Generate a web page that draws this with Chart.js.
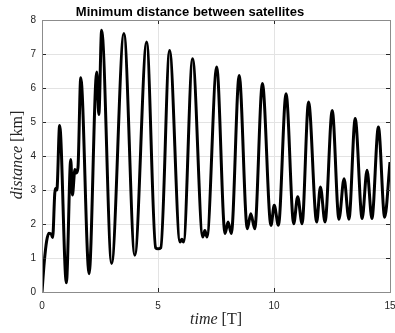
<!DOCTYPE html>
<html>
<head>
<meta charset="utf-8">
<script src="https://cdn.jsdelivr.net/npm/chart.js@4.4.0/dist/chart.umd.min.js"></script>
<style>
  html, body { margin: 0; padding: 0; background: #fff; }
  canvas { display: block; }
</style>
</head>
<body>
<canvas id="myChart" width="395" height="333"></canvas>
<script>
"use strict";

/* Data (time in orbital periods T, distance in km) */
const times = [
    0, 0.1, 0.2, 0.3, 0.4, 0.46, 0.55, 0.6, 0.64, 0.76,
    1.05, 1.24, 1.31, 1.42, 1.48, 1.55, 1.67,
    2.03, 2.36, 2.45, 2.57,
    3.0, 3.53, 4.0, 4.51,
    4.9, 5.0, 5.12, 5.5,
    5.95, 6.03, 6.1, 6.49,
    6.93, 7.02, 7.11, 7.53,
    7.89, 8.02, 8.16, 8.5,
    8.85, 9.0, 9.17, 9.5,
    9.87, 10.01, 10.19, 10.52,
    10.85, 11.02, 11.21, 11.49,
    11.84, 12.0, 12.2, 12.51,
    12.8, 13.02, 13.23, 13.5,
    13.8, 14.01, 14.22, 14.5,
    14.77, 15
];
const distances = [
    0, 0.9, 1.5, 1.73, 1.7, 1.6, 2.9, 3.05, 3.0, 4.9,
    0.27, 3.9, 2.85, 3.6, 3.5, 3.65, 6.3,
    0.54, 6.47, 5.22, 7.7,
    0.84, 7.6, 1.08, 7.35,
    1.3, 1.27, 1.3, 7.1,
    1.47, 1.55, 1.47, 6.86,
    1.62, 1.81, 1.62, 6.62,
    1.72, 2.06, 1.72, 6.37,
    1.86, 2.3, 1.86, 6.13,
    1.96, 2.55, 1.96, 5.83,
    2.01, 2.8, 2.01, 5.59,
    2.06, 3.09, 2.06, 5.34,
    2.14, 3.33, 2.14, 5.1,
    2.16, 3.58, 2.16, 4.85,
    2.2, 3.82
];
const xTicks = [0, 5, 10, 15];
const yTicks = [0, 1, 2, 3, 4, 5, 6, 7, 8];

const points = times.map(function (t, i) {
    return { x: t, y: distances[i] };
});

// Box, inward ticks, title and axis labels (MATLAB style)
const matlabFrame = {
    id: 'matlabFrame',
    afterDraw: function (chart) {
        const ctx = chart.ctx;
        const a = chart.chartArea;
        const xs = chart.scales.x;
        const ys = chart.scales.y;
        ctx.save();
        ctx.strokeStyle = '#262626';
        ctx.lineWidth = 1;
        ctx.beginPath();
        xTicks.forEach(function (v) {
            const px = Math.round(xs.getPixelForValue(v)) + 0.5;
            ctx.moveTo(px, a.bottom); ctx.lineTo(px, a.bottom - 4);
            ctx.moveTo(px, a.top); ctx.lineTo(px, a.top + 4);
        });
        yTicks.forEach(function (v) {
            const py = Math.round(ys.getPixelForValue(v)) + 0.5;
            ctx.moveTo(a.left, py); ctx.lineTo(a.left + 4, py);
            ctx.moveTo(a.right, py); ctx.lineTo(a.right - 4, py);
        });
        ctx.stroke();
        ctx.strokeStyle = '#8c8c8c';
        ctx.strokeRect(Math.round(a.left) + 0.5, Math.round(a.top) + 0.5,
            Math.round(a.right - a.left), Math.round(a.bottom - a.top));

        // title
        ctx.fillStyle = '#000';
        ctx.font = 'bold 13px "Liberation Sans", Arial, sans-serif';
        ctx.textAlign = 'center';
        ctx.textBaseline = 'alphabetic';
        ctx.fillText('Minimum distance between satellites', 190, 16);

        // x label
        const it = 'italic 16px "Liberation Serif", serif';
        const up = '16px "Liberation Serif", serif';
        ctx.fillStyle = '#262626';
        ctx.textAlign = 'left';
        ctx.font = it;
        const w1 = ctx.measureText('time').width;
        ctx.font = up;
        const w2 = ctx.measureText(' [T]').width;
        let x0 = 216 - (w1 + w2) / 2;
        ctx.font = it; ctx.fillText('time', x0, 324);
        ctx.font = up; ctx.fillText(' [T]', x0 + w1, 324);

        // y label
        ctx.translate(22, 155);
        ctx.rotate(-Math.PI / 2);
        ctx.font = it;
        const w3 = ctx.measureText('distance').width;
        ctx.font = up;
        const w4 = ctx.measureText(' [km]').width;
        x0 = -(w3 + w4) / 2;
        ctx.font = it; ctx.fillText('distance', x0, 0);
        ctx.font = up; ctx.fillText(' [km]', x0 + w3, 0);
        ctx.restore();
    }
};

const config = {
    type: 'line',
    data: {
        datasets: [{
            label: 'distance',
            data: points,
            borderColor: '#000',
            borderWidth: 3,
            pointRadius: 0,
            fill: false,
            cubicInterpolationMode: 'monotone'
        }]
    },
    options: {
        responsive: false,
        animation: false,
        devicePixelRatio: 1,
        layout: { padding: { top: 20, right: 5, left: 0, bottom: 0 } },
        plugins: {
            legend: { display: false },
            tooltip: { enabled: false },
            title: { display: false }
        },
        scales: {
            x: {
                type: 'linear',
                min: 0,
                max: 15,
                afterFit: function (s) {
                    s.height = 41;
                    s.paddingLeft = 0;
                    s.paddingRight = 0;
                },
                afterBuildTicks: function (s) {
                    s.ticks = xTicks.map(function (v) { return { value: v }; });
                },
                grid: { color: '#e3e3e3', drawTicks: false },
                border: { display: false },
                ticks: {
                    padding: 8,
                    color: '#262626',
                    maxRotation: 0,
                    font: { family: '"Liberation Sans", Arial, sans-serif', size: 10 }
                }
            },
            y: {
                min: 0,
                max: 8,
                afterFit: function (s) {
                    s.width = 42;
                    s.paddingTop = 0;
                    s.paddingBottom = 0;
                },
                afterBuildTicks: function (s) {
                    s.ticks = yTicks.map(function (v) { return { value: v }; });
                },
                grid: { color: '#e3e3e3', drawTicks: false },
                border: { display: false },
                ticks: {
                    padding: 6,
                    color: '#262626',
                    font: { family: '"Liberation Sans", Arial, sans-serif', size: 10 }
                }
            }
        }
    },
    plugins: [matlabFrame]
};

const myChart = new Chart(document.getElementById('myChart'), config);
</script>
</body>
</html>
